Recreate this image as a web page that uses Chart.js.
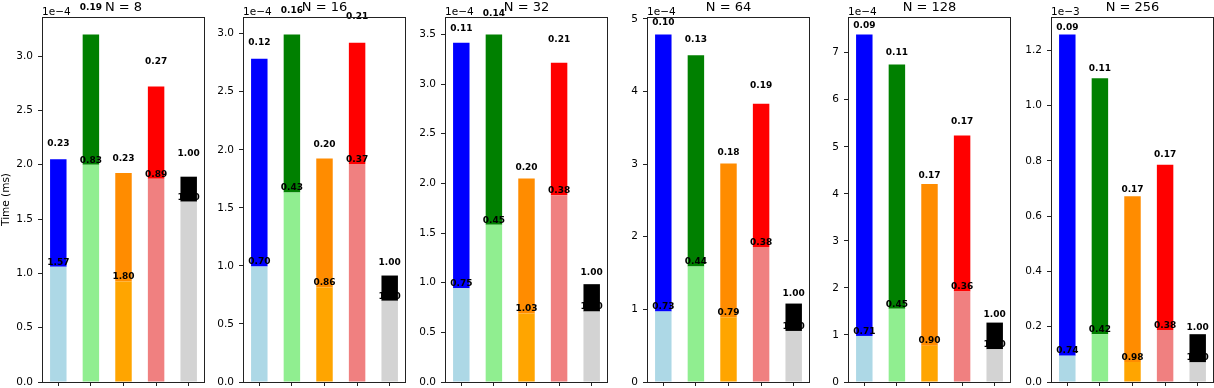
<!DOCTYPE html>
<html><head><meta charset="utf-8">
<script src="https://cdn.jsdelivr.net/npm/chart.js@4.4.1/dist/chart.umd.min.js"></script>
<style>
html,body{margin:0;padding:0;background:#fff;width:1214px;height:388px;overflow:hidden;position:relative}
canvas{position:absolute;top:0}
</style></head><body>
<script>
// ---- data (times in ms) ----
const categories = ['1', '2', '3', '4', '5'];
const panelTitles = ['N = 8', 'N = 16', 'N = 32', 'N = 64', 'N = 128', 'N = 256'];
const scaleExp = [-4, -4, -4, -4, -4, -3];
const tickSteps = [0.5, 0.5, 0.5, 1, 1, 0.2];
const tickDecimals = [1, 1, 1, 0, 0, 1];

const lightN8   = [1.06e-4, 2.00e-4, 0.925e-4, 1.87e-4, 1.66e-4];
const totalN8   = [2.05e-4, 3.20e-4, 1.925e-4, 2.72e-4, 1.89e-4];
const lowLabN8  = ['1.57', '0.83', '1.80', '0.89', '1.00'];
const topLabN8  = ['0.23', '0.19', '0.23', '0.27', '1.00'];

const lightN16  = [0.995e-4, 1.633e-4, 0.814e-4, 1.878e-4, 0.699e-4];
const totalN16  = [2.784e-4, 2.994e-4, 1.924e-4, 2.922e-4, 0.917e-4];
const lowLabN16 = ['0.70', '0.43', '0.86', '0.37', '1.00'];
const topLabN16 = ['0.12', '0.16', '0.20', '0.21', '1.00'];

const lightN32  = [0.945e-4, 1.584e-4, 0.69e-4, 1.88e-4, 0.709e-4];
const totalN32  = [3.416e-4, 3.50e-4, 2.048e-4, 3.215e-4, 0.985e-4];
const lowLabN32 = ['0.75', '0.45', '1.03', '0.38', '1.00'];
const topLabN32 = ['0.11', '0.14', '0.20', '0.21', '1.00'];

const lightN64  = [0.969e-4, 1.59e-4, 0.892e-4, 1.857e-4, 0.703e-4];
const totalN64  = [4.786e-4, 4.497e-4, 3.007e-4, 3.83e-4, 1.08e-4];
const lowLabN64 = ['0.73', '0.44', '0.79', '0.38', '1.00'];
const topLabN64 = ['0.10', '0.13', '0.18', '0.19', '1.00'];

const lightN128  = [0.98e-4, 1.555e-4, 0.773e-4, 1.923e-4, 0.696e-4];
const totalN128  = [7.39e-4, 6.75e-4, 4.21e-4, 5.24e-4, 1.263e-4];
const lowLabN128 = ['0.71', '0.45', '0.90', '0.36', '1.00'];
const topLabN128 = ['0.09', '0.11', '0.17', '0.17', '1.00'];

const lightN256  = [0.0954e-3, 0.173e-3, 0.0725e-3, 0.1885e-3, 0.071e-3];
const totalN256  = [1.258e-3, 1.099e-3, 0.672e-3, 0.786e-3, 0.173e-3];
const lowLabN256 = ['0.74', '0.42', '0.98', '0.38', '1.00'];
const topLabN256 = ['0.09', '0.11', '0.17', '0.17', '1.00'];

// ---- styles / layout ----
const lightColors = ['#ADD8E6', '#90EE90', '#FFA500', '#F08080', '#D3D3D3'];
const darkColors  = ['#0000FF', '#008000', '#FF8C00', '#FF0000', '#000000'];
const AXES_LEFT = [42, 243, 445, 647, 848, 1051];
const AXES_W = 163;
const AXES_TOP = 17;
const AXES_BOTTOM = 382;
const YAX_W = 42;
const FONT = "'DejaVu Sans', sans-serif";

const panels = [
  [lightN8, totalN8, lowLabN8, topLabN8],
  [lightN16, totalN16, lowLabN16, topLabN16],
  [lightN32, totalN32, lowLabN32, topLabN32],
  [lightN64, totalN64, lowLabN64, topLabN64],
  [lightN128, totalN128, lowLabN128, topLabN128],
  [lightN256, totalN256, lowLabN256, topLabN256]
];

panels.forEach(([light, total, lowLab, topLab], i) => {
  const cv = document.createElement('canvas');
  const W = YAX_W + AXES_W + 4;
  cv.width = W; cv.height = 388;
  cv.style.left = (AXES_LEFT[i] - YAX_W) + 'px';
  cv.style.width = W + 'px'; cv.style.height = '388px';
  document.body.appendChild(cv);
  const f = Math.pow(10, scaleExp[i]);
  const ymax = Math.max(...total) * 1.05;
  let xH = 388 - AXES_BOTTOM;

  const decor = {
    id: 'decor' + i,
    afterDatasetsDraw(chart) {
      const ctx = chart.ctx, xs = chart.scales.x, ys = chart.scales.y;
      ctx.save();
      ctx.fillStyle = '#000';
      ctx.textAlign = 'center';
      ctx.textBaseline = 'bottom';
      ctx.font = 'bold 9px ' + FONT;
      for (let k = 0; k < light.length; k++) {
        const x = xs.getPixelForValue(k);
        ctx.fillText(lowLab[k], x, ys.getPixelForValue(light[k]));
        ctx.fillText(topLab[k], x, ys.getPixelForValue(total[k] + 0.1 * light[k]));
      }
      ctx.restore();
    },
    afterDraw(chart) {
      const ctx = chart.ctx, a = chart.chartArea;
      ctx.save();
      ctx.strokeStyle = '#222';
      ctx.lineWidth = 1;
      ctx.strokeRect(Math.round(a.left) + 0.5, Math.round(a.top) + 0.5,
                     Math.round(a.right - a.left) - 1, Math.round(a.bottom - a.top));
      ctx.fillStyle = '#000';
      ctx.textAlign = 'center';
      ctx.textBaseline = 'alphabetic';
      ctx.font = '13px ' + FONT;
      ctx.fillText(panelTitles[i], (a.left + a.right) / 2, a.top - 6.5);
      ctx.textAlign = 'left';
      ctx.font = '10.5px ' + FONT;
      ctx.fillText('1e\u2212' + (-scaleExp[i]), a.left, a.top - 2.5);
      if (i === 0) {
        ctx.translate(a.left - 36, (a.top + a.bottom) / 2);
        ctx.rotate(-Math.PI / 2);
        ctx.textAlign = 'center';
        ctx.textBaseline = 'middle';
        ctx.fillText('Time (ms)', 0, 0);
      }
      ctx.restore();
    }
  };

  const chart = new Chart(cv, {
    type: 'bar',
    data: {
      labels: categories,
      datasets: [
        { data: light, backgroundColor: lightColors, borderWidth: 0 },
        { data: total.map((t, k) => t - light[k]), backgroundColor: darkColors, borderWidth: 0 }
      ]
    },
    options: {
      responsive: false, animation: false, devicePixelRatio: 1,
      datasets: { bar: { barPercentage: 0.505, categoryPercentage: 1.0 } },
      layout: { padding: { top: AXES_TOP, right: 4, left: 0, bottom: 0 } },
      plugins: { legend: { display: false }, tooltip: { enabled: false }, title: { display: false } },
      scales: {
        x: {
          stacked: true, offset: true,
          grid: { offset: false, drawOnChartArea: false, drawTicks: true, tickLength: 4, color: '#222' },
          border: { display: false },
          ticks: { callback: () => '', padding: 0, font: { size: 1, lineHeight: 0.1 } },
          afterFit: s => { s.height = Math.max(0, xH); }
        },
        y: {
          stacked: true, min: 0, max: ymax,
          grid: { drawOnChartArea: false, drawTicks: true, tickLength: 4, color: '#222' },
          border: { display: false },
          ticks: {
            stepSize: tickSteps[i] * f, includeBounds: false, padding: 5, color: '#000',
            font: { family: FONT, size: 10.5, lineHeight: 0.1 },
            callback: v => (v / f).toFixed(tickDecimals[i])
          },
          afterFit: s => { s.width = YAX_W; }
        }
      }
    },
    plugins: [decor]
  });
  const d = AXES_BOTTOM - chart.chartArea.bottom;
  if (Math.abs(d) > 0.2) { xH -= d; chart.update(); }
});
</script>
</body></html>
